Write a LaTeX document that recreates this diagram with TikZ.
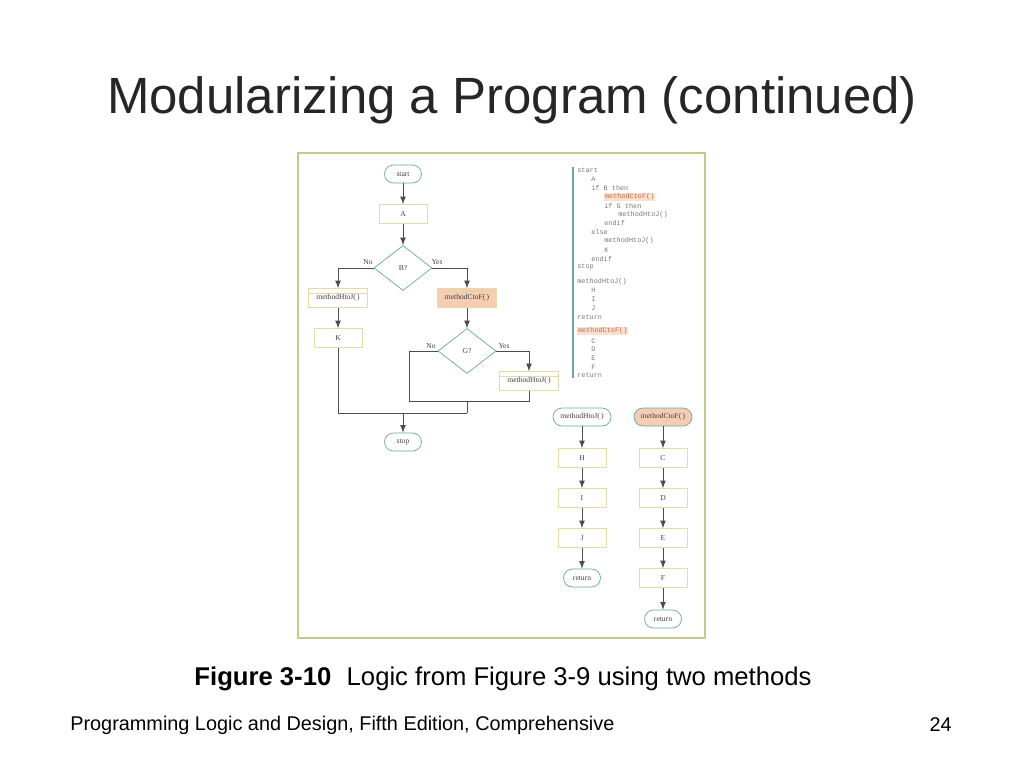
\documentclass[tikz,border=0pt]{standalone}
\usepackage{fontspec}
\setmainfont{Liberation Sans}
\setmonofont{Liberation Mono}
\newfontfamily\figfont{Liberation Serif}
\usetikzlibrary{shapes.geometric,arrows}
\definecolor{frameclr}{RGB}{200,200,140}
\definecolor{boxclr}{RGB}{228,218,170}
\definecolor{tealclr}{RGB}{100,168,168}
\definecolor{peach}{RGB}{246,204,180}
\definecolor{codeclr}{RGB}{120,120,120}
\definecolor{hlclr}{RGB}{205,105,60}

\begin{document}
\begin{tikzpicture}[x=0.02cm,y=-0.02cm,
every node/.style={font=\figfont\fontsize{4.3}{5}\selectfont,text=black!75},
term/.style={draw=tealclr,rounded corners=0.18cm,minimum width=0.74cm,minimum height=0.36cm,inner sep=0pt},
proc/.style={draw=boxclr,minimum width=0.96cm,minimum height=0.38cm,inner sep=0pt},
modbox/.style={draw=boxclr,minimum width=1.18cm,minimum height=0.38cm,inner sep=0pt,
  path picture={\draw[boxclr] ([yshift=-2.6pt]path picture bounding box.north west) -- ([yshift=-2.6pt]path picture bounding box.north east);}},
decis/.style={diamond,draw=tealclr,minimum width=1.16cm,minimum height=0.9cm,inner sep=0pt},
code/.style={anchor=west,inner sep=0pt,font=\ttfamily\fontsize{3.9}{4.5}\selectfont,text=codeclr},
hl/.style={code,fill=peach!60,text=hlclr,inner sep=0.4pt},
line/.style={draw=black!70,line width=0.5pt},
>=latex]
\useasboundingbox (0,0) rectangle (1024,768);
\fill[white] (0,0) rectangle (1024,768);

\node[font=\fontsize{29}{34}\selectfont,text=black!85] (title) at (512,100) {Modularizing a Program (continued)};
\draw[frameclr,line width=0.9pt] (298,153) rectangle (705,638);

% main flowchart
\node[term] (start) at (403,174) {start};
\node[proc] (A) at (403,214) {A};
\node[decis] (B) at (403,268) {B?};
\node[modbox] (hj1) at (338,298) {methodHtoJ(\,)};
\node[modbox,fill=peach] (cf1) at (467,298) {methodCtoF(\,)};
\node[proc] (K) at (338,338) {K};
\node[decis] (G) at (467,351) {G?};
\node[modbox] (hj2) at (529,381) {methodHtoJ(\,)};
\node[term] (stop) at (403,442) {stop};
\node (no1) at (368,262) {No};
\node (yes1) at (437,262) {Yes};
\node (no2) at (431,346) {No};
\node (yes2) at (504,346) {Yes};

\draw[line,->] (start) -- (A);
\draw[line,->] (A) -- (B);
\draw[line,->] (B.west) -| (hj1);
\draw[line,->] (B.east) -| (cf1);
\draw[line,->] (hj1) -- (K);
\draw[line,->] (cf1) -- (G);
\draw[line,->] (G.east) -| (hj2);
\coordinate (gl) at (409,401);
\coordinate (gm) at (467,401);
\coordinate (jm) at (467,413);
\coordinate (jc) at (403,413);
\draw[line] (G.west) -| (gl) -- (gm);
\draw[line] (hj2.south) |- (gm) -- (jm);
\draw[line] (K.south) |- (jm);
\draw[line,->] (jc) -- (stop);

% pseudocode
\draw[tealclr,line width=0.8pt] (573,167) -- (573,378);
\foreach \n/\x/\y/\t in {1/577/170/start, 2/591/179/A, 3/591/188/if B then, 5/604/206/if G then,
  6/618/215/methodHtoJ(), 7/604/223/endif, 8/591/232/else, 9/604/241/methodHtoJ(), 10/604/250/K,
  11/591/259/endif, 12/577/267/stop, 13/577/282/methodHtoJ(), 14/591/290/H, 15/591/299/I,
  16/591/308/J, 17/577/317/return, 19/591/341/C, 20/591/349/D, 21/591/358/E, 22/591/367/F, 23/577/375/return}
  \node[code] (p\n) at (\x,\y) {\t};
\node[hl] (p4) at (604,197) {methodCtoF()};
\node[hl] (p18) at (577,331) {methodCtoF()};

% the two methods
\node[term,minimum width=1.16cm] (mhj) at (582,417) {methodHtoJ(\,)};
\node[term,minimum width=1.16cm,fill=peach] (mcf) at (663,417) {methodCtoF(\,)};
\foreach \n/\y in {H/458,I/498,J/538} \node[proc] (\n) at (582,\y) {\n};
\node[term] (ret1) at (582,578) {return};
\foreach \n/\y in {C/458,D/498,E/538,F/578} \node[proc] (\n) at (663,\y) {\n};
\node[term] (ret2) at (663,619) {return};
\foreach \a/\b in {mhj/H,H/I,I/J,J/ret1,mcf/C,C/D,D/E,E/F,F/ret2}
  \draw[line,->] (\a) -- (\b);

\node[font=\fontsize{14.6}{17}\selectfont,text=black] (cap) at (503,679) {\textbf{Figure 3-10}\hspace{0.6em}Logic from Figure 3-9 using two methods};
\node[anchor=west,inner sep=0pt,font=\fontsize{11.3}{13}\selectfont,text=black] (foot) at (70,725) {Programming Logic and Design, Fifth Edition, Comprehensive};
\node[anchor=east,inner sep=0pt,font=\fontsize{11.3}{13}\selectfont,text=black] (pg) at (952,725) {24};
\end{tikzpicture}
\end{document}
